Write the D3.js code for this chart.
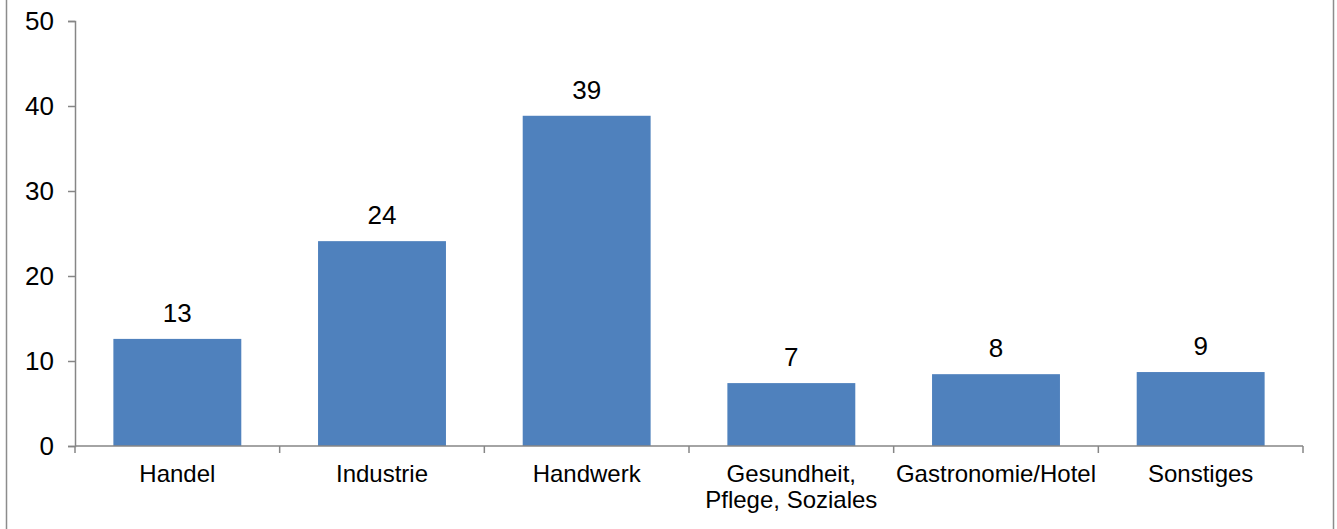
<!DOCTYPE html>
<html>
<head>
<meta charset="utf-8">
<script src="https://cdn.jsdelivr.net/npm/d3@7"></script>
<style>
  html, body { margin: 0; padding: 0; background: #fff; }
  svg { display: block; font-family: "Liberation Sans", Arial, sans-serif; }
</style>
</head>
<body>
<svg id="chart" width="1337" height="529"></svg>
<script>
const categories = [["Handel"], ["Industrie"], ["Handwerk"], ["Gesundheit,", "Pflege, Soziales"], ["Gastronomie/Hotel"], ["Sonstiges"]];
const values = [12.6, 24.1, 38.85, 7.4, 8.45, 8.7];
const yTicks = [0, 10, 20, 30, 40, 50];

const W = 1337, H = 529;
const margin = { left: 75, right: 34, top: 21, bottom: 83 };
const svg = d3.select("#chart");
const catFont = 24;
const numFont = 26;
const axisColor = "#868686";

// outer frame (left & right edges visible)
svg.append("line").attr("x1", 6.5).attr("x2", 6.5).attr("y1", 0).attr("y2", H)
  .attr("stroke", "#8c8c8c").attr("stroke-width", 1.5);
svg.append("line").attr("x1", 1333.5).attr("x2", 1333.5).attr("y1", 0).attr("y2", H)
  .attr("stroke", "#8c8c8c").attr("stroke-width", 1.5);

const keys = categories.map((c, i) => i);
const x = d3.scaleBand().domain(keys).range([margin.left, W - margin.right])
  .paddingInner(0.375).paddingOuter(0.1875);
const y = d3.scaleLinear().domain([0, 50]).range([H - margin.bottom, margin.top]);

// bars
svg.append("g").selectAll("rect").data(values).join("rect")
  .attr("x", (d, i) => x(i))
  .attr("width", x.bandwidth())
  .attr("y", d => y(d))
  .attr("height", d => y(0) - y(d))
  .attr("fill", "#4f81bd");

// value labels
svg.append("g").selectAll("text").data(values).join("text")
  .attr("x", (d, i) => x(i) + x.bandwidth() / 2)
  .attr("y", d => y(d) - 17)
  .attr("text-anchor", "middle")
  .attr("font-size", numFont)
  .attr("fill", "#000")
  .text(d => d3.format(".0f")(d));

// y axis
const yAxis = svg.append("g").attr("transform", `translate(${margin.left},0)`)
  .call(d3.axisLeft(y).tickValues(yTicks).tickSize(7).tickPadding(14).tickFormat(d3.format("d")));
yAxis.select(".domain").attr("stroke", axisColor).attr("stroke-width", 1.5);
yAxis.selectAll(".tick line").attr("stroke", axisColor).attr("stroke-width", 1.5);
yAxis.selectAll(".tick text").attr("font-size", numFont).attr("fill", "#000")
  .attr("font-family", "Liberation Sans, Arial, sans-serif");

// x axis baseline and category boundary ticks
const x0 = y(0);
const step = x.step();
const xAxisG = svg.append("g");
xAxisG.append("line").attr("x1", margin.left).attr("x2", W - margin.right)
  .attr("y1", x0).attr("y2", x0).attr("stroke", axisColor).attr("stroke-width", 1.5);
const boundaries = d3.range(keys.length + 1).map(k => x(0) - x.paddingOuter() * step + k * step);
xAxisG.selectAll("line.b").data(boundaries).join("line").attr("class", "b")
  .attr("x1", d => d).attr("x2", d => d)
  .attr("y1", x0).attr("y2", x0 + 7)
  .attr("stroke", axisColor).attr("stroke-width", 1.5);

// category labels
const lab = svg.append("g").selectAll("text").data(categories).join("text")
  .attr("x", (d, i) => x(i) + x.bandwidth() / 2)
  .attr("y", 482)
  .attr("text-anchor", "middle")
  .attr("font-size", catFont)
  .attr("fill", "#000");
lab.each(function(d) {
  const t = d3.select(this);
  d.forEach((line, j) => {
    t.append("tspan").attr("x", t.attr("x")).attr("dy", j === 0 ? 0 : 26).text(line);
  });
});
</script>
</body>
</html>
